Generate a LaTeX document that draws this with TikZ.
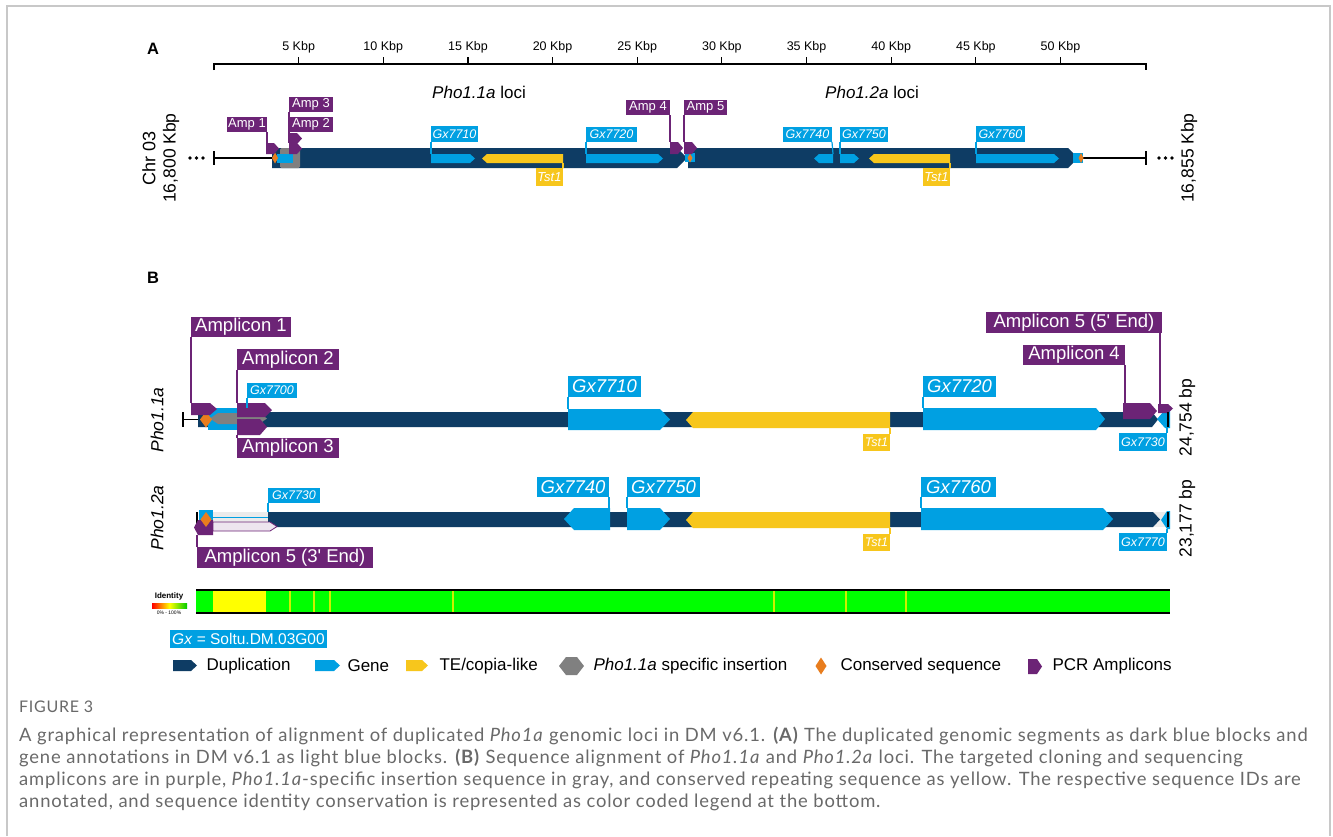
\documentclass[tikz,border=0pt]{standalone}
\usepackage{fontspec}
\setmainfont{Liberation Sans}
\newfontfamily\capfont[LetterSpace=4.5]{Lato}
\usetikzlibrary{calc}
\definecolor{dup}{RGB}{14,60,100}
\definecolor{gene}{RGB}{0,160,226}
\definecolor{te}{RGB}{247,198,28}
\definecolor{ins}{RGB}{128,128,128}
\definecolor{cons}{RGB}{232,125,30}
\definecolor{amp}{RGB}{108,36,118}
\definecolor{capgray}{RGB}{105,105,105}
\definecolor{idgreen}{RGB}{0,255,0}
\definecolor{idyellow}{RGB}{255,255,0}
\definecolor{idline}{RGB}{205,240,0}
\definecolor{gapgray}{RGB}{235,235,235}
\definecolor{framegray}{RGB}{200,200,200}
\newcommand{\fs}[1]{\fontsize{#1}{#1}\selectfont}
% right-pointing pentagon: x1 x2 y1 y2 tip style
\newcommand{\pR}[6]{\fill[#6] (#1,#3) -- ({#2-#5},#3) -- (#2,{(#3+#4)/2}) -- ({#2-#5},#4) -- (#1,#4) -- cycle;}
% left-pointing pentagon
\newcommand{\pL}[6]{\fill[#6] ({#1+#5},#3) -- (#2,#3) -- (#2,#4) -- ({#1+#5},#4) -- (#1,{(#3+#4)/2}) -- cycle;}
% diamond: cx cy w h style
\newcommand{\diam}[5]{\fill[#5] (#1,{#2-#4/2}) -- ({#1+#3/2},#2) -- (#1,{#2+#4/2}) -- ({#1-#3/2},#2) -- cycle;}
% label box: name x1 x2 y1 y2 colour font text
\newcommand{\lab}[8]{\node[labbox,fill=#6,font=#7,minimum width={#3-#2},minimum height={#5-#4}] (#1) at ({(#2+#3)/2},{(#4+#5)/2}) {#8};}
\tikzset{
  labbox/.style={inner sep=0pt,outer sep=0pt,text=white,anchor=center},
  lead/.style={draw=#1,line width=1.2pt},
  chr/.style={draw=black,line width=1.2pt},
  axisline/.style={draw=black,line width=1.1pt},
  rot/.style={rotate=90,font=\fs{17.5}},
  legtext/.style={anchor=west,font=\fs{17}}
}
\begin{document}
\begin{tikzpicture}[x=1pt,y=-1pt]
\useasboundingbox (0,0) rectangle (1333,836);
\fill[white] (0,0) rectangle (1333,836);
\draw[framegray,line width=1.5pt] (7,836) -- (7,6) -- (1330,6) -- (1330,836);

% ================= Panel A =================
\node[font=\bfseries\fs{16.5}] (pA) at (153,49) {A};
\draw[axisline] (214,70) -- (214,64) -- (1146,64) -- (1146,70);
\foreach \k in {5,10,...,50}{
  \pgfmathsetmacro\xx{214+16.93*\k}
  \draw[axisline] (\xx,57) -- (\xx,64);
  \node[font=\fs{12.5}] at (\xx,47) {\k\ Kbp};
}
\node[font=\fs{17}] (locA) at (479,92) {\textit{Pho1.1a} loci};
\node[font=\fs{17}] (locB) at (872,92) {\textit{Pho1.2a} loci};

\node[rot,font=\fs{18}] (chr) at (149,158) {Chr 03};
\node[rot,font=\fs{17.5}] (st) at (171,158) {16,800 Kbp};
\node[rot,font=\fs{17.5}] (en) at (1189,158) {16,855 Kbp};
\foreach \x in {190,196.5,203,1159,1165.5,1172}{\fill (\x,158) circle (1.8);}

\draw[chr] (214,151) -- (214,165);
\draw[chr] (214,158) -- (272,158);
\draw[chr] (1080,158) -- (1146,158);
\draw[chr] (1146,151) -- (1146,165);

\pR{272}{687}{148}{168}{10}{dup}
\pR{688}{1078}{148}{168}{10}{dup}
\fill[ins,rounded corners=1.5] (280,148) rectangle (300,168);
\fill[gene] (277,154) rectangle (293,163);
\diam{275}{158}{6}{11}{cons}
\fill[gene] (685,153) rectangle (695,162);
\diam{690}{158}{5}{9}{cons}
\fill[gene] (1073,153) rectangle (1083,163);
\diam{1081}{158}{5}{10}{cons}

\pR{431}{475}{154}{163}{5}{gene}
\pL{482}{563}{154}{163}{5}{te}
\pR{586}{663}{154}{163}{5}{gene}
\pL{814}{833}{154}{163}{5}{gene}
\pR{840}{859}{154}{163}{5}{gene}
\pL{869}{950}{154}{163}{5}{te}
\pR{976}{1059}{154}{163}{5}{gene}

\pR{266}{279}{143}{154}{5}{amp}
\pR{289}{302}{133}{144}{5}{amp}
\pR{289}{302}{143}{154}{5}{amp}
\pR{670}{683}{142}{154}{5}{amp}
\pR{684}{697}{142}{154}{5}{amp}

\coordinate (fa1) at (267,143);
\coordinate (fa2) at (289,143);
\coordinate (fa3) at (289,133);
\coordinate (fa4) at (670,142);
\coordinate (fa5) at (684,142);
\coordinate (fg10) at (431,154);
\coordinate (ft1) at (563,163);
\coordinate (fg20) at (586,154);
\coordinate (fg40) at (833,154);
\coordinate (fg50) at (840,154);
\coordinate (ft2) at (950,163);
\coordinate (fg60) at (976,154);

\draw[lead=amp] (267,132) -- (fa1);
\draw[lead=amp] (289,112) -- (fa3);
\draw[lead=amp] (289,132) -- (fa2);
\draw[lead=amp] (670,115) -- (fa4);
\draw[lead=amp] (684,115) -- (fa5);

\lab{aa1}{227}{267}{117}{132}{amp}{\fs{13}}{Amp 1}
\lab{aa3}{289}{333}{97}{112}{amp}{\fs{13}}{Amp 3}
\lab{aa2}{289}{333}{117}{132}{amp}{\fs{13}}{Amp 2}
\lab{aa4}{626}{670}{100}{115}{amp}{\fs{13}}{Amp 4}
\lab{aa5}{684}{727}{100}{115}{amp}{\fs{13}}{Amp 5}
\lab{ag10}{431}{478}{126}{142}{gene}{\fs{12.5}\itshape}{Gx7710}
\lab{at1}{536}{563}{168}{186}{te}{\fs{13}\itshape}{Tst1}
\lab{ag20}{586}{637}{127}{142}{gene}{\fs{12.5}\itshape}{Gx7720}
\lab{ag40}{783}{832}{127}{142}{gene}{\fs{12.5}\itshape}{Gx7740}
\lab{ag50}{840}{888}{127}{142}{gene}{\fs{12.5}\itshape}{Gx7750}
\lab{at2}{923}{950}{168}{186}{te}{\fs{13}\itshape}{Tst1}
\lab{ag60}{976}{1025}{126}{142}{gene}{\fs{12.5}\itshape}{Gx7760}

\draw[lead=gene] (ag10.south west) -- (fg10);
\draw[lead=te] (at1.north east) -- (ft1);
\draw[lead=gene] (ag20.south west) -- (fg20);
\draw[lead=gene] (ag40.south east) -- (fg40);
\draw[lead=gene] (ag50.south west) -- (fg50);
\draw[lead=te] (at2.north east) -- (ft2);
\draw[lead=gene] (ag60.south west) -- (fg60);

% ================= Panel B =================
\node[font=\bfseries\fs{16.5}] (pB) at (153,278) {B};
\node[rot,font=\fs{17.5}\itshape] (t1) at (157,420) {Pho1.1a};
\node[rot,font=\fs{17.5}\itshape] (t2) at (157,518) {Pho1.2a};
\node[rot] (len1) at (1187,417.5) {24,754 bp};
\node[rot] (len2) at (1187,518.5) {23,177 bp};

% --- track 1
\draw[chr] (183,412) -- (183,427);
\draw[chr] (183,419.5) -- (198,419.5);
\pR{198}{1158}{412}{427}{6}{dup}
\fill[gene] (208,408) rectangle (242,430);
\fill[ins] (210,418.5) -- (218,413) -- (259,413) -- (267,418.5) -- (259,424) -- (218,424) -- cycle;
\diam{206}{419.5}{12}{16}{cons}
\pR{568}{670}{409}{430}{10}{gene}
\pL{686}{890}{412}{428}{7}{te}
\pR{923}{1105}{408}{430}{9}{gene}
\pL{1157}{1170}{410}{428}{8}{gene}
\pR{191}{217}{403}{415}{7}{amp}
\pR{237}{272}{403}{417}{7}{amp}
\pR{237}{267}{419}{435}{7}{amp}
\pR{1123}{1157}{403}{419}{7}{amp}
\pR{1158}{1173}{404}{413}{5}{amp}
\draw[chr] (1168,412) -- (1168,427);

\coordinate (b1) at (191,403);
\coordinate (b2) at (237,403);
\coordinate (b3) at (237,435);
\coordinate (g00) at (247,408);
\coordinate (g10) at (568,409);
\coordinate (tt1) at (890,428);
\coordinate (g20) at (923,408);
\coordinate (b4) at (1125,403);
\coordinate (b5) at (1160,404);
\coordinate (g30) at (1167,428);

\lab{ba1}{191}{291}{317}{337}{amp}{\fs{18.5}}{Amplicon 1}
\lab{ba2}{237}{339}{349}{370}{amp}{\fs{18.5}}{Amplicon 2}
\lab{bg00}{247}{297}{383}{398}{gene}{\fs{12.5}\itshape}{Gx7700}
\lab{ba3}{237}{339}{438}{458}{amp}{\fs{18.5}}{Amplicon 3}
\lab{bg10}{568}{641}{376}{397}{gene}{\fs{18.5}\itshape}{Gx7710}
\lab{bt1}{863}{890}{434}{451}{te}{\fs{12.5}\itshape}{Tst1}
\lab{bg20}{923}{996}{376}{397}{gene}{\fs{18.5}\itshape}{Gx7720}
\lab{ba4}{1023}{1125}{345}{365}{amp}{\fs{18.5}}{Amplicon 4}
\lab{ba5}{986}{1162}{312}{333}{amp}{\fs{18.5}}{Amplicon 5 (5\textquotesingle\ End)}
\lab{bg30}{1119}{1167}{433}{451}{gene}{\fs{12.5}\itshape}{Gx7730}

\draw[lead=amp] (ba1.south west) -- (b1);
\draw[lead=amp] (ba2.south west) -- (b2);
\draw[lead=amp] (ba3.north west) -- (b3);
\draw[lead=gene] (bg00.south west) -- (g00);
\draw[lead=gene] (bg10.south west) -- (g10);
\draw[lead=te] (bt1.north east) -- (tt1);
\draw[lead=gene] (bg20.south west) -- (g20);
\draw[lead=amp] (ba4.south east) -- (b4);
\draw[lead=amp] (1160,333) -- (b5);
\draw[lead=gene] (bg30.north east) -- (g30);

% --- track 2
\fill[gapgray] (213,512) rectangle (268,527);
\fill[gapgray] (1153,512) rectangle (1170,527);
\draw[gene,line width=1pt] (213,517.5) -- (268,517.5);
\draw[chr] (197,512) -- (197,527);
\pR{268}{1160}{512}{527}{7}{dup}
\fill[gene] (199,510) rectangle (213,528);
\pL{194}{213}{520}{535}{4}{amp}
\filldraw[draw=amp,fill=amp!12,line width=0.8pt] (213,522) -- (270,522) -- (277,526.5) -- (270,531) -- (213,531) -- cycle;
\diam{206}{519.5}{11}{15}{cons}
\pL{564}{610}{508}{530}{10}{gene}
\pR{627}{670}{508}{530}{10}{gene}
\pL{686}{890}{512}{528}{7}{te}
\pR{921}{1113}{508}{530}{10}{gene}
\pL{1161}{1170}{511}{529}{6}{gene}
\draw[chr] (1168,512) -- (1168,527);

\coordinate (c30) at (268,512);
\coordinate (c5) at (197,535);
\coordinate (c40) at (609,508);
\coordinate (c50) at (627,508);
\coordinate (tt2) at (890,528);
\coordinate (c60) at (921,508);
\coordinate (c70) at (1167,529);

\lab{cg30}{268}{320}{488}{503}{gene}{\fs{12.5}\itshape}{Gx7730}
\lab{ca5}{197}{373}{547}{568}{amp}{\fs{18.5}}{Amplicon 5 (3\textquotesingle\ End)}
\lab{cg40}{537}{609}{477}{497}{gene}{\fs{18.5}\itshape}{Gx7740}
\lab{cg50}{627}{700}{477}{497}{gene}{\fs{18.5}\itshape}{Gx7750}
\lab{ct2}{863}{890}{534}{551}{te}{\fs{12.5}\itshape}{Tst1}
\lab{cg60}{921}{996}{477}{497}{gene}{\fs{18.5}\itshape}{Gx7760}
\lab{cg70}{1119}{1167}{533}{551}{gene}{\fs{12.5}\itshape}{Gx7770}

\draw[lead=gene] (cg30.south west) -- (c30);
\draw[lead=amp] (ca5.north west) -- (c5);
\draw[lead=gene] (cg40.south east) -- (c40);
\draw[lead=gene] (cg50.south west) -- (c50);
\draw[lead=te] (ct2.north east) -- (tt2);
\draw[lead=gene] (cg60.south west) -- (c60);
\draw[lead=gene] (cg70.north east) -- (c70);

% --- identity bar
\fill[idgreen] (196,591) rectangle (1170,612);
\fill[idyellow] (213,591) rectangle (266,612);
\foreach \x in {290,314,330,453,774,846,906}{\draw[idline,line width=1.5pt] (\x,591) -- (\x,612);}
\draw[line width=2.2pt] (196,590) -- (1170,590);
\draw[line width=2.2pt] (196,613) -- (1170,613);
\node[font=\bfseries\fs{8}] (idt) at (169,596) {Identity};
\shade[left color=red,right color=green!80!black,middle color=yellow] (152,603.5) rectangle (187,608.5);
\node[font=\fs{5}] (idr) at (169,613) {0\% - 100\%};

% --- legend
\lab{gxl}{170}{327}{630}{648}{gene}{\fs{15.5}}{\textit{Gx} = Soltu.DM.03G00}
\pR{173}{197}{660}{671}{6}{dup}
\node[legtext] (l1) at (203,666) {Duplication};
\pR{315}{340}{660}{671}{6}{gene}
\node[legtext] (l2) at (344,666) {Gene};
\pR{406}{428}{660}{671}{6}{te}
\node[legtext] (l3) at (436,666) {TE/copia-like};
\fill[ins] (559,666) -- (566,657) -- (577,657) -- (584,666) -- (577,675) -- (566,675) -- cycle;
\node[legtext] (l4) at (590,666) {\textit{Pho1.1a} specific insertion};
\diam{821}{666}{11}{17}{cons}
\node[legtext] (l5) at (837,666) {Conserved sequence};
\pR{1028}{1042}{659}{674}{5}{amp}
\node[legtext] (l6) at (1049,666) {PCR Amplicons};

% --- caption
\node[anchor=base west,font=\capfont\fs{16},text=capgray,inner sep=0pt] (fig) at (19,712) {FIGURE 3};
\begin{scope}[every node/.style={anchor=base west,font=\capfont\fs{18.4},text=capgray,inner sep=0pt}]
\node (c1) at (19,741) {A graphical representation of alignment of duplicated \textit{Pho1a} genomic loci in DM v6.1. \textbf{(A)} The duplicated genomic segments as dark blue blocks and};
\node (c2) at (19,763) {gene annotations in DM v6.1 as light blue blocks. \textbf{(B)} Sequence alignment of \textit{Pho1.1a} and \textit{Pho1.2a} loci. The targeted cloning and sequencing};
\node (c3) at (19,785) {amplicons are in purple, \textit{Pho1.1a}-specific insertion sequence in gray, and conserved repeating sequence as yellow. The respective sequence IDs are};
\node (c4) at (19,807) {annotated, and sequence identity conservation is represented as color coded legend at the bottom.};
\end{scope}
\end{tikzpicture}
\end{document}
